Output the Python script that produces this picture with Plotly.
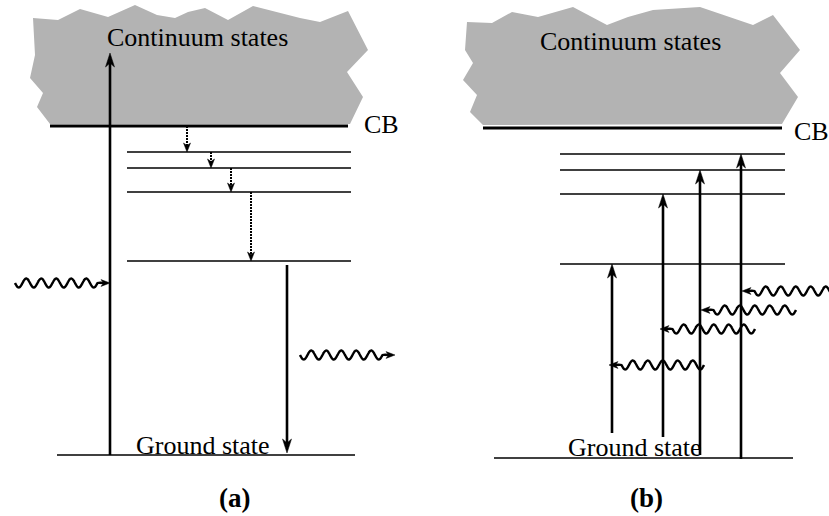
import numpy as np
import plotly.graph_objects as go

W, H = 829, 516
FONT = "Liberation Serif"
INK = "black"
GREY = "#b3b3b3"

# ---------------- panel (a): absorption, cascade relaxation, emission ----------------
CB_A = 126
CB_A_X = (50, 348)
LEVELS_A = [152, 168, 192, 261]
LEVEL_A_X = (127, 351)
GROUND_A = 455
GROUND_A_X = (57, 355)
PUMP_A_X = 110            # excitation from ground state into the continuum
PUMP_A_TOP = 53
CASCADE_A_X = [187, 211, 231, 251]   # non-radiative steps CB->L1->L2->L3->L4
EMIT_A_X = 287            # radiative decay L4 -> ground
PHOTON_IN_A = (110, 283)  # (tip x, y) of incoming photon
PHOTON_OUT_A = (395, 355) # (tip x, y) of emitted photon

CONT_A_X = [33, 58, 80, 108, 135, 157, 175, 188, 205, 228, 253, 300, 320, 348,
            368, 347, 363, 350, 50, 37, 43, 30, 35]
CONT_A_Y = [18, 20, 9, 17, 5, 15, 18, 12, 8, 20, 6, 18, 22, 11,
            50, 72, 97, 124, 124, 107, 93, 78, 55]

# ---------------- panel (b): stepwise absorption from the ground state ----------------
CB_B = 128
CB_B_X = (483, 782)
LEVELS_B = [154, 170, 194, 264]
LEVEL_B_X = (560, 785)
GROUND_B = 458
GROUND_B_X = (494, 793)
ABS_B_X = [612, 663, 700, 741]
ABS_B_BOTTOM = [433, 437, 455, 459]
ABS_B_LEVEL = [3, 2, 1, 0]           # index of the level each absorption reaches
PHOTON_B_TIP_X = [609, 660, 701, 742]
PHOTON_B_Y = [365, 329, 310, 291]

CONT_B_X = [467, 492, 512, 538, 573, 607, 628, 653, 700, 753, 773, 800,
            780, 798, 782, 483, 470, 477, 463, 473, 465]
CONT_B_Y = [22, 23, 12, 17, 7, 25, 17, 10, 7, 25, 15, 50,
            73, 97, 124, 125, 112, 95, 80, 63, 50]

shapes = []


def poly(xs, ys):
    d = "M " + " L ".join(f"{x},{y}" for x, y in zip(xs, ys)) + " Z"
    shapes.append(dict(type="path", path=d, fillcolor=GREY,
                       line=dict(width=0), layer="below"))


def hline(y, xr, width):
    shapes.append(dict(type="line", x0=xr[0], x1=xr[1], y0=y, y1=y,
                       line=dict(color=INK, width=width)))


def head(tx, ty, dx, dy, length, half):
    bx, by = tx - dx * length, ty - dy * length
    nx, ny = tx - dx * length * 0.72, ty - dy * length * 0.72
    px, py = -dy, dx
    d = (f"M {tx},{ty} L {bx + px * half},{by + py * half} "
         f"L {nx},{ny} L {bx - px * half},{by - py * half} Z")
    shapes.append(dict(type="path", path=d, fillcolor=INK,
                       line=dict(color=INK, width=0.5)))


def varrow(x, y0, y1, width=2.6, length=14, half=4.5, dash=None):
    """Vertical arrow from y0 to tip y1."""
    dy = 1 if y1 > y0 else -1
    line = dict(color=INK, width=width)
    if dash:
        line["dash"] = dash
    shapes.append(dict(type="line", x0=x, x1=x, y0=y0, y1=y1 - dy * length * 0.6,
                       line=line))
    head(x, y1, 0, dy, length, half)


traces = []


def photon(tip_x, y, direction, length=95, period=15.0, amp=4.5):
    """Wavy photon line ending in an arrowhead; direction +1 right, -1 left."""
    wave_len = 5.5 * period
    s = np.linspace(0, wave_len, 240)
    tail = tip_x - direction * length
    xs = tail + direction * s
    ys = y + amp * np.sin(2 * np.pi * s / period)
    xs = np.append(xs, tip_x - direction * 5)
    ys = np.append(ys, y)
    traces.append(go.Scatter(x=xs, y=ys, mode="lines",
                             line=dict(color=INK, width=2.4, shape="spline"),
                             hoverinfo="skip", showlegend=False))
    head(tip_x, y, direction, 0, 9, 3.4)


# continuum regions
poly(CONT_A_X, CONT_A_Y)
poly(CONT_B_X, CONT_B_Y)

# panel (a) levels
hline(CB_A, CB_A_X, 3)
for lv in LEVELS_A:
    hline(lv, LEVEL_A_X, 1.5)
hline(GROUND_A, GROUND_A_X, 1.5)

varrow(PUMP_A_X, GROUND_A, PUMP_A_TOP)
starts = [CB_A] + LEVELS_A[:-1]
for x, y0, y1 in zip(CASCADE_A_X, starts, LEVELS_A):
    varrow(x, y0, y1, width=2, length=9, half=3.5, dash="2px,1px")
varrow(EMIT_A_X, LEVELS_A[-1] + 4, GROUND_A - 2)
photon(PHOTON_IN_A[0], PHOTON_IN_A[1], 1)
photon(PHOTON_OUT_A[0], PHOTON_OUT_A[1], 1)

# panel (b) levels
hline(CB_B, CB_B_X, 3)
for lv in LEVELS_B:
    hline(lv, LEVEL_B_X, 1.5)
hline(GROUND_B, GROUND_B_X, 1.5)

for x, yb, li in zip(ABS_B_X, ABS_B_BOTTOM, ABS_B_LEVEL):
    varrow(x, yb, LEVELS_B[li])
for tx, y in zip(PHOTON_B_TIP_X, PHOTON_B_Y):
    photon(tx, y, -1)

txt = dict(family=FONT, size=26, color=INK)
bold = dict(family=FONT, size=27, color=INK, weight="bold")
annotations = [
    dict(x=197, y=37, text="Continuum states", font=txt),
    dict(x=630, y=41, text="Continuum states", font=txt),
    dict(x=362, y=124, text="CB", font=txt, xanchor="left"),
    dict(x=792, y=131, text="CB", font=txt, xanchor="left"),
    dict(x=203, y=445, text="Ground state", font=txt),
    dict(x=635, y=447, text="Ground state", font=txt),
    dict(x=234, y=498, text="(a)", font=bold),
    dict(x=646, y=498, text="(b)", font=bold),
]
for a in annotations:
    a.update(xref="x", yref="y", showarrow=False)
    a.setdefault("xanchor", "center")
    a.setdefault("yanchor", "middle")

fig = go.Figure(traces)
fig.update_layout(
    width=W, height=H, autosize=False,
    margin=dict(l=0, r=0, t=0, b=0),
    paper_bgcolor="white", plot_bgcolor="white",
    xaxis=dict(range=[0, W], visible=False, fixedrange=True),
    yaxis=dict(range=[H, 0], visible=False, fixedrange=True),
    shapes=shapes, annotations=annotations,
)
fig.write_html("out.html")
